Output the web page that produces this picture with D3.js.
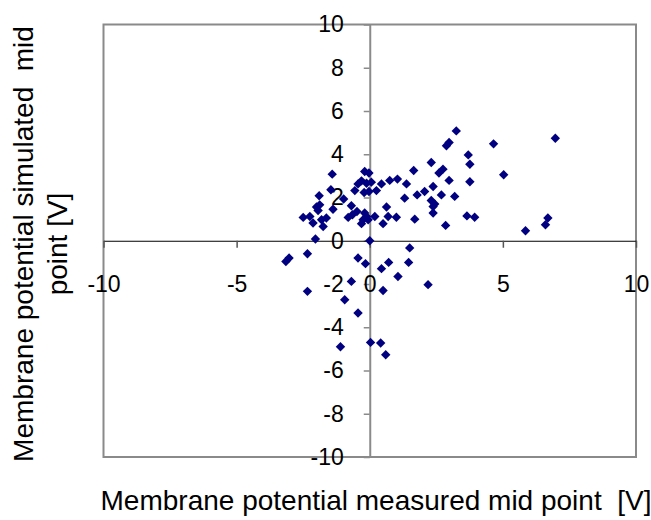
<!DOCTYPE html>
<html><head><meta charset="utf-8">
<script src="https://cdn.jsdelivr.net/npm/d3@7/dist/d3.min.js"></script>
<style>
html,body{margin:0;padding:0;background:#fff;}
svg{display:block;font-family:"Liberation Sans",Arial,sans-serif;}
</style></head>
<body><svg id="chart" width="651" height="520"></svg>
<script>
const xTicks = [-10, -5, 0, 5, 10];
const yTicks = [-10, -8, -6, -4, -2, 0, 2, 4, 6, 8, 10];
const xTitle = "Membrane potential measured mid point  [V]";
const yTitleLines = ["Membrane potential simulated  mid", "point [V]"];

// measured (x) values
const measured = [
  -2.04, -3.15, -3.03, -2.34, -2.34, -0.44, -0.16, 0, 0.44, 0.71, 1.5, 1.46, 1.06, 2.19, -0.69, 0.5, -0.94, -0.44, 0.03, 0.41, 0.6, -1.1,
  3.25, 2.98, 2.88, 4.65, 6.97, 3.7, 3.76, 2.31, 1.65, 2.75, 2.6, 5.03, 2.98, 3.76, 2.38, 2.06, 1.78, 2.69, 3.19, 2.31, 2.44, 2.38, 2.38, 1.69, 2.85, 3.65, 3.94, 5.85, 6.69, 6.6,
  -1.41, -1.9, -1.46, -0.19, -0.03, -0.31, -0.44, -0.12, 0.06, 0.44, 0.75, 1.04, 1.38, -0.56, -0.21, -0.03, 0.25, 1.31, -0.98, -0.69, -1.88, -1.38, -2.0, -1.94, -2.5, -2.25, -2.13, -1.75, -1.63, -1.81, -0.81, -0.65, -0.19, -0.12, -0.25, -0.06, -0.31, -0.48, 0.19, 0.63, 0.69, 1.0, 0.5
];
// simulated (y) values
const simulated = [
  0.08, -0.96, -0.8, -0.6, -2.34, -0.8, -1.06, 0, -1.29, -1.0, -0.33, -1.0, -1.65, -2.03, -1.88, -2.3, -2.73, -3.34, -4.7, -4.73, -5.27, -4.9,
  5.08, 4.54, 4.39, 4.48, 4.74, 3.97, 3.54, 3.62, 3.25, 3.31, 3.13, 3.05, 2.79, 2.73, 2.51, 2.28, 2.12, 2.12, 2.05, 1.86, 1.7, 1.58, 1.28, 1.0, 0.71, 1.15, 1.09, 0.46, 1.05, 0.74,
  3.08, 2.08, 2.36, 3.2, 3.13, 2.77, 2.63, 2.66, 2.71, 2.63, 2.79, 2.85, 2.63, 2.32, 2.23, 2.28, 2.32, 1.97, 1.93, 1.62, 1.66, 1.46, 1.56, 1.4, 1.08, 1.12, 0.82, 0.66, 1.05, 0.97, 1.08, 1.2, 1.28, 1.12, 0.97, 0.97, 0.79, 1.35, 1.12, 1.56, 1.12, 1.09, 0.79
];

const svg = d3.select("#chart");
const L = 103.5, R = 636, T = 24.5, B = 457;
const x = d3.scaleLinear().domain([-10, 10]).range([L, R]);
const y = d3.scaleLinear().domain([-10, 10]).range([B, T]);
const fmt = d => String(d);

// plot box
svg.append("rect").attr("x", L).attr("y", T).attr("width", R - L).attr("height", B - T)
  .attr("fill", "none").attr("stroke", "#8a8a8a").attr("stroke-width", 2);

// y axis at x=0
const yAxis = svg.append("g").attr("transform", `translate(${x(0)},0)`)
  .call(d3.axisLeft(y).tickValues(yTicks).tickSize(6).tickSizeOuter(0).tickPadding(20).tickFormat(fmt));
yAxis.select(".domain").attr("stroke", "#8a8a8a").attr("stroke-width", 2);
yAxis.selectAll(".tick line").attr("stroke", "#8a8a8a").attr("stroke-width", 1.5);
yAxis.selectAll(".tick text").attr("font-size", 23).attr("fill", "#000")
  .attr("font-family", "Liberation Sans, Arial, sans-serif");

// x axis at y=0
const xAxis = svg.append("g").attr("transform", `translate(0,${y(0)})`)
  .call(d3.axisBottom(x).tickValues(xTicks).tickSize(7).tickSizeOuter(0).tickPadding(28).tickFormat(fmt));
xAxis.select(".domain").attr("stroke", "#000").attr("stroke-width", 1.2);
xAxis.selectAll(".tick line").attr("stroke", "#555").attr("stroke-width", 1.5);
xAxis.selectAll(".tick text").attr("font-size", 23).attr("fill", "#000")
  .attr("font-family", "Liberation Sans, Arial, sans-serif");

// points
const pts = measured.map((d, i) => [d, simulated[i]]);
const s = 4.7;
svg.append("g").selectAll("path").data(pts).join("path")
  .attr("d", `M0,${-s}L${s},0L0,${s}L${-s},0Z`)
  .attr("transform", d => `translate(${x(d[0])},${y(d[1])})`)
  .attr("fill", "#000080");

// titles
svg.append("text").attr("x", 376).attr("y", 510).attr("text-anchor", "middle")
  .attr("font-size", 28).style("white-space", "pre").text(xTitle);
const yt = svg.append("g");
yTitleLines.forEach((t, i) => {
  yt.append("text").attr("transform", `translate(${33 + i * 34},244) rotate(-90)`)
    .attr("text-anchor", "middle").attr("font-size", 28).style("white-space", "pre").text(t);
});
</script></body></html>
